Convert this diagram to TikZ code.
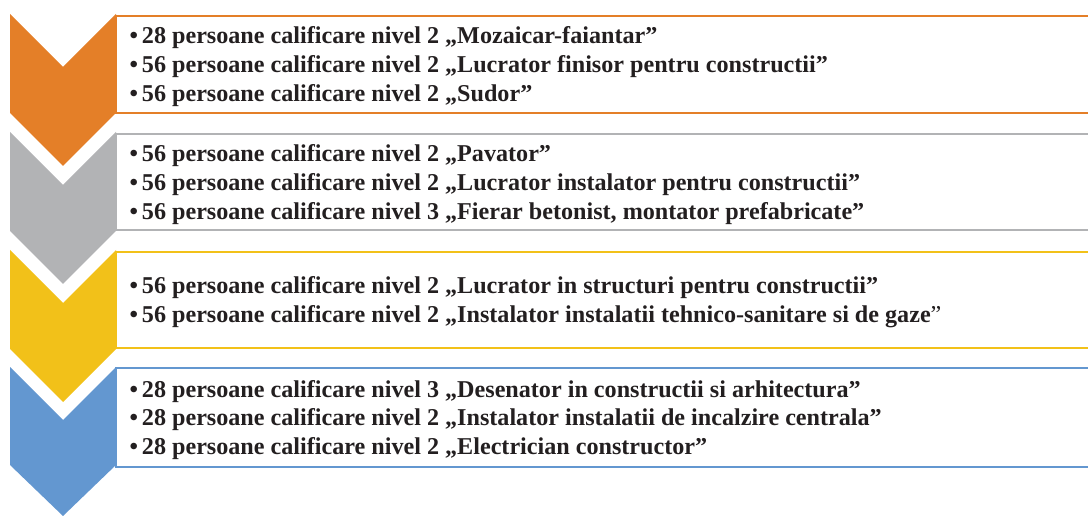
\documentclass[tikz,border=0pt]{standalone}
\usepackage{fontspec}
\setmainfont{Liberation Serif}
\definecolor{orangestage}{RGB}{228,127,40}
\definecolor{graystage}{RGB}{178,179,181}
\definecolor{yellowstage}{RGB}{242,193,25}
\definecolor{bluestage}{RGB}{99,151,208}
\definecolor{itemtext}{RGB}{35,31,32}
\tikzset{
	stagebox/.style={line width=1.5pt, fill=white},
	chevron/.style={draw=none},
	items/.style={anchor=west, inner sep=0pt, align=left, text=itemtext,
		font=\fontsize{18.1}{21.5}\selectfont\bfseries}}
\tikzset{every picture/.style={line width=0.75pt}}

\begin{document}
\begin{tikzpicture}[x=0.75pt,y=0.75pt,yscale=-1,xscale=1]
	\clip (0,0) rectangle (1088,516);

	%Shape: Rectangle [orange box]
	\draw [stagebox, draw=orangestage] (116,16) rectangle (1100,113);
	%Shape: Rectangle [gray box]
	\draw [stagebox, draw=graystage] (116,134) rectangle (1100,230);
	%Shape: Rectangle [yellow box]
	\draw [stagebox, draw=yellowstage] (116,252) rectangle (1100,348);
	%Shape: Rectangle [blue box]
	\draw [stagebox, draw=bluestage] (116,368) rectangle (1100,467);

	%Shape: Chevron [orange]
	\fill [chevron, orangestage] (10,14) -- (63,67) -- (116,14) -- (116,113) -- (63,166) -- (10,113) -- cycle ;
	%Shape: Chevron [gray]
	\fill [chevron, graystage] (10,132) -- (63,185) -- (116,132) -- (116,231) -- (63,284) -- (10,231) -- cycle ;
	%Shape: Chevron [yellow]
	\fill [chevron, yellowstage] (10,250) -- (63,303) -- (116,250) -- (116,349) -- (63,402) -- (10,349) -- cycle ;
	%Shape: Chevron [blue]
	\fill [chevron, bluestage] (10,367) -- (63,420) -- (116,367) -- (116,465) -- (63,516) -- (10,465) -- cycle ;

	% Text Node
	\draw (129,66.5) node [items] (orangeitems) {•\,28 persoane calificare nivel 2 „Mozaicar-faiantar”\\•\,56 persoane calificare nivel 2 „Lucrator finisor pentru constructii”\\•\,56 persoane calificare nivel 2 „Sudor”};
	% Text Node
	\draw (129,184.5) node [items] (grayitems) {•\,56 persoane calificare nivel 2 „Pavator”\\•\,56 persoane calificare nivel 2 „Lucrator instalator pentru constructii”\\•\,56 persoane calificare nivel 3 „Fierar betonist, montator prefabricate”};
	% Text Node
	\draw (129,302) node [items] (yellowitems) {•\,56 persoane calificare nivel 2 „Lucrator in structuri pentru constructii”\\•\,56 persoane calificare nivel 2 „Instalator instalatii tehnico-sanitare si de gaze{\mdseries ”}};
	% Text Node
	\draw (129,420) node [items] (blueitems) {•\,28 persoane calificare nivel 3 „Desenator in constructii si arhitectura”\\•\,28 persoane calificare nivel 2 „Instalator instalatii de incalzire centrala”\\•\,28 persoane calificare nivel 2 „Electrician constructor”};

\end{tikzpicture}
\end{document}
